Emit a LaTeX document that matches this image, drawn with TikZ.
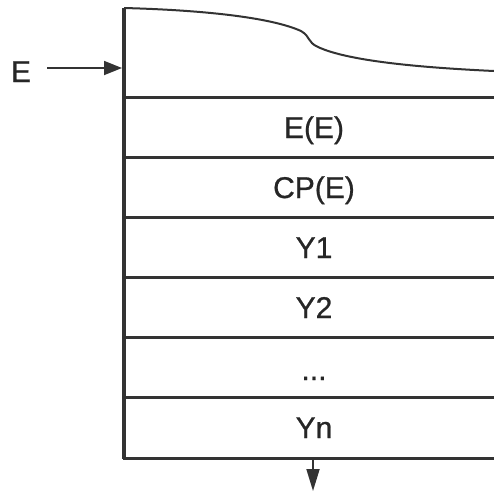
\documentclass[tikz,border=0pt]{standalone}
\usepackage{fontspec}
\setmainfont{Liberation Sans}
\newfontfamily\rowfont[FakeBold=0.8]{Liberation Sans}
\usetikzlibrary{arrows.meta}

\begin{document}
\begin{tikzpicture}[x=1pt,y=-1pt,
  wall/.style={draw=black!80,line width=3.2pt},
  rule/.style={draw=black!80,line width=3pt},
  label/.style={font=\rowfont\fontsize{30}{32}\selectfont,text=black!85,inner sep=0pt,anchor=base},
  feed/.style={-{Triangle[length=18pt,width=14pt]},draw=black!80,line width=1.8pt}]

\useasboundingbox (0,0) rectangle (494,491);

% left wall and stacked rows
\draw[wall] (124,8) -- (124,459);
\foreach \y in {97,157,217,277,337,397,458}
  \draw[rule] (123,\y) -- (494,\y);

% free surface on top
\draw[black!80,line width=2pt] (124,8) .. controls (200,10) and (270,17) .. (301,31)
  .. controls (311,37) and (307,42) .. (318,47)
  .. controls (350,62) and (430,68) .. (494,71);

% row labels, set on their baselines
\node[label] (ee) at (314,138) {E(E)};
\node[label] (cpe) at (314,198) {CP(E)};
\node[label] (y1) at (314,258) {Y1};
\node[label] (y2) at (314,318) {Y2};
\node[label] (dots) at (314,380) {...};
\node[label] (yn) at (314,438) {Yn};

% inflow and outflow
\node[label] (inlet) at (21,82) {E};
\coordinate (inst) at (47,68);
\coordinate (wallin) at (122,68);
\draw[feed] (inst) -- (wallin);
\coordinate (outtop) at (313,459);
\coordinate (outend) at (313,491);
\draw[feed,-{Triangle[length=22pt,width=13pt]}] (outtop) -- (outend);
\end{tikzpicture}
\end{document}
